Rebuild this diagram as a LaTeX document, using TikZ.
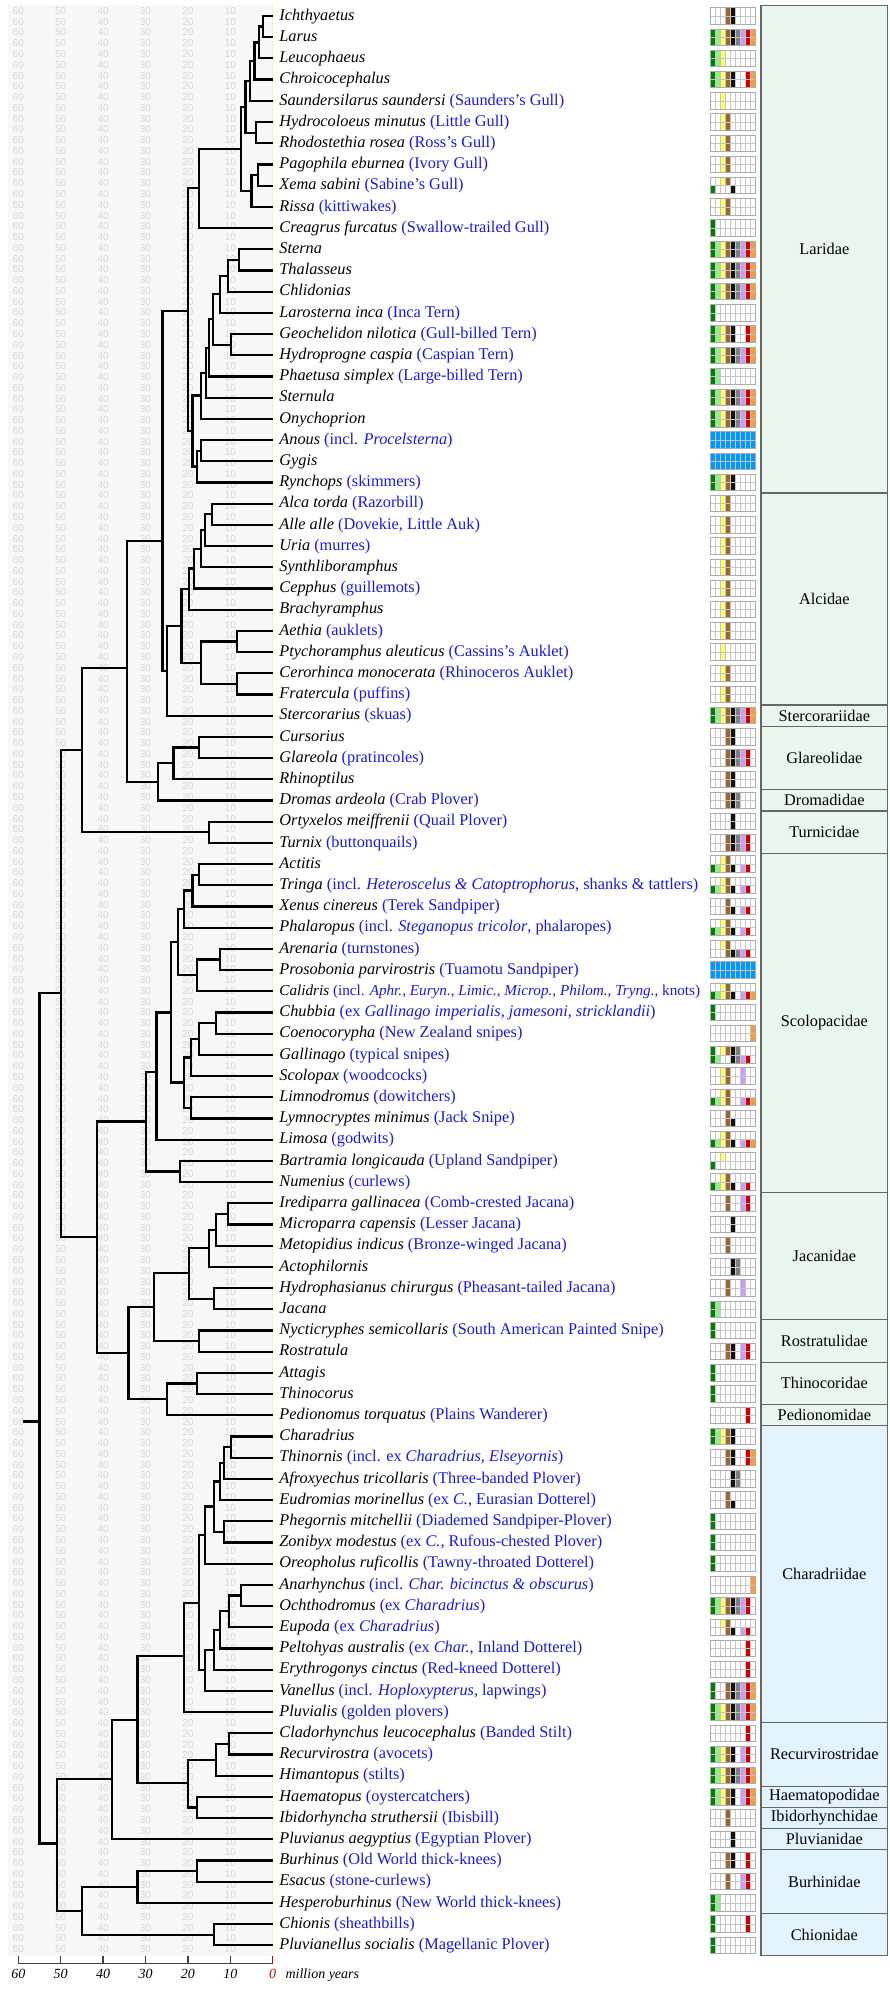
\documentclass[tikz,border=0pt]{standalone}
\usepackage{fontspec}
\setmainfont{Liberation Serif}
\newfontfamily\agefont{Liberation Sans}
\usetikzlibrary{positioning}

\definecolor{col1}{RGB}{0,128,0}
\definecolor{col2}{RGB}{144,238,144}
\definecolor{col3}{RGB}{255,255,102}
\definecolor{col4}{RGB}{153,102,51}
\definecolor{col5}{RGB}{17,17,17}
\definecolor{col6}{RGB}{128,128,128}
\definecolor{col7}{RGB}{204,153,255}
\definecolor{col8}{RGB}{204,0,0}
\definecolor{col9}{RGB}{255,153,51}
\definecolor{cellblue}{RGB}{0,153,255}
\definecolor{nameblue}{RGB}{24,24,230}
\definecolor{larigreen}{RGB}{232,246,237}
\definecolor{charablue}{RGB}{227,243,251}
\definecolor{plotgray}{RGB}{247,247,247}
\definecolor{agegray}{RGB}{214,214,214}
\definecolor{zeroline}{RGB}{255,236,196}

\newcommand\cm[1]{\textcolor{nameblue}{(#1)}}

\tikzset{
  branch/.style={line width=2.2pt},
  leaf/.style={inner sep=0pt, text height=12.6pt, text depth=4pt,
    font=\fontsize{16.3}{19}\selectfont},
  agenum/.style={inner sep=0pt, text=agegray, font=\agefont\fontsize{10}{12}\selectfont},
  ticklabel/.style={inner sep=0pt, text height=10pt, text depth=3pt,
    font=\fontsize{14}{16}\selectfont\itshape},
  cellline/.style={draw=gray!45, line width=0.45pt},
  cellbox/.style={draw=gray!65, line width=0.8pt},
  fambox/.style={draw=black!60, line width=1.3pt},
  famlabel/.style={inner sep=0pt, font=\fontsize{16.3}{19}\selectfont}
}

\begin{document}
\begin{tikzpicture}[x=1pt, y=-21.2pt]
  \useasboundingbox (0,0.2453) rectangle (890,94.1604);

  \fill[plotgray] (8,0.47) rectangle (272.7,92.5);
  \draw[zeroline, line width=1.2pt] (272.7,0.47) -- (272.7,92.5);

  \begin{scope}[x=-4.24pt, xshift=272.7pt]
    \foreach \k in {0,...,180}
      \foreach \a in {10,20,...,60}
        \node[agenum] (age-\k-\a) at (\a,{0.764+0.50792*\k}) {\a};

    \foreach \i in {1,...,92}
      \coordinate (l\i) at (0,\i);

    \foreach \nm/\ag/\rw/\ca/\cb in {
      n1/2.2/1.5/l1/l2, n2/3.2/2.25/n1/l3, n3/4.3/3.125/n2/l4, n4/5.4/4.06/n3/l5,
      n5/3.9/6.5/l6/l7, n6/6.4/5.28/n4/n5, n7/3.4/8.5/l8/l9, n8/5.0/9.25/n7/l10,
      n9/7.5/7.27/n6/n8, n10/17.4/9.13/n9/l11,
      t1/8.0/12.5/l12/l13, t2/10.5/13.25/t1/l14, t3/12.4/14.13/t2/l15,
      t4/9.9/16.5/l16/l17, t5/14.0/15.31/t3/t4, t6/15.0/16.66/t5/l18,
      t7/15.8/17.83/t6/l19, t8/16.9/18.9/t7/l20, t9/16.9/21.5/l21/l22,
      t10/17.9/22.25/t9/l23, t11/18.9/20.58/t8/t10,
      lari/19.9/14.9/n10/t11,
      a1/14.3/24.5/l24/l25, a2/15.9/25.25/a1/l26, a3/16.9/26.13/a2/l27,
      a4/18.5/27.06/a3/l28, a5/19.8/28.03/a4/l29, a6/8.4/30.5/l30/l31,
      a7/8.4/32.5/l32/l33, a8/16.9/31.5/a6/a7, a9/21.5/29.77/a5/a8,
      a10/25.0/31.88/a9/l34,
      lari2/26.0/25.75/lari/a10,
      g1/17.4/35.5/l35/l36, g2/23.4/36.25/g1/l37, g3/27.0/37.13/g2/l38,
      lari3/34.4/31.74/lari2/g3,
      tu/15.0/39.5/l39/l40,
      lari4/45.0/35.62/lari3/tu,
      s1/17.4/41.5/l41/l42, s2/18.9/42.25/s1/l43, s3/20.9/43.13/s2/l44,
      s4/12.4/45.5/l45/l46, s5/17.9/46.25/s4/l47, s6/22.3/44.69/s3/s5,
      sn1/13.4/48.5/l48/l49, sn2/17.4/49.25/sn1/l50, sn3/19.3/50.13/sn2/l51,
      sn4/19.3/52.5/l52/l53, sn5/20.9/51.31/sn3/sn4,
      s7/23.9/48.0/s6/sn5, s8/27.4/50.8/s7/l54, s9/21.9/55.5/l55/l56,
      s10/29.9/53.15/s8/s9,
      j1/10.5/57.5/l57/l58, j2/13.4/58.25/j1/l59, j3/15.0/59.13/j2/l60,
      j4/13.9/61.5/l61/l62, j5/19.8/60.31/j3/j4, r1/17.4/63.5/l63/l64,
      j6/28.0/61.9/j5/r1, h1/17.9/65.5/l65/l66, h2/25.0/66.25/h1/l67,
      j7/34.0/64.07/j6/h2,
      scolo/41.5/58.6/s10/j7,
      lariscolo/49.9/47.1/lari4/scolo,
      c1/9.9/68.5/l68/l69, c2/11.4/69.25/c1/l70, c3/12.4/70.13/c2/l71,
      c4/11.5/72.5/l72/l73, c5/13.9/71.31/c3/c4, c6/15.9/72.66/c5/l74,
      v1/7.4/75.5/l75/l76, v2/10.4/76.25/v1/l77, v3/12.4/77.13/v2/l78,
      v4/13.9/78.06/v3/l79, v5/15.9/79.03/v4/l80,
      c7/17.4/75.85/c6/v5, c8/20.9/78.35/c7/l81,
      rc1/10.4/82.5/l82/l83, rc2/13.4/83.25/rc1/l84, hi/17.9/85.5/l85/l86,
      rc3/19.9/84.35/rc2/hi,
      c9/31.9/81.38/c8/rc3, c10/37.9/84.15/c9/l87,
      b1/17.9/88.5/l88/l89, b2/31.9/89.25/b1/l90, ch/13.9/91.5/l91/l92,
      b3/45.0/90.38/b2/ch,
      chara/50.9/87.2/c10/b3,
      root/55.0/67.3/lariscolo/chara}
    {
      \coordinate (\nm) at (\ag,\rw);
      \draw[branch] (\ca) -| (\nm) |- (\cb);
    }
    \coordinate (stem) at (58.8,67.3);
    \draw[branch] (stem) -- (root);

    % time axis
    \draw[black!75, line width=1.3pt] (60,92.85) -- (0,92.85);
    \foreach \a in {10,20,...,60} {
      \draw[black!75, line width=1.3pt] (\a,92.85) -- ++(0,-0.33);
      \node[ticklabel] (tick\a) at (\a,93.42) {\a};
    }
    \draw[red!80!black, line width=1.3pt] (0,92.85) -- ++(0,-0.33);
    \node[ticklabel, text=red!80!black] (tick0) at (0,93.42) {0};
  \end{scope}
  \node[ticklabel, right=9pt of tick0] (myr) {million years};

  \foreach \i/\txt in {
    1/{\textit{Ichthyaetus}},
    2/{\textit{Larus}},
    3/{\textit{Leucophaeus}},
    4/{\textit{Chroicocephalus}},
    5/{\textit{Saundersilarus saundersi} \cm{Saunders’s Gull}},
    6/{\textit{Hydrocoloeus minutus} \cm{Little Gull}},
    7/{\textit{Rhodostethia rosea} \cm{Ross’s Gull}},
    8/{\textit{Pagophila eburnea} \cm{Ivory Gull}},
    9/{\textit{Xema sabini} \cm{Sabine’s Gull}},
    10/{\textit{Rissa} \cm{kittiwakes}},
    11/{\textit{Creagrus furcatus} \cm{Swallow-trailed Gull}},
    12/{\textit{Sterna}},
    13/{\textit{Thalasseus}},
    14/{\textit{Chlidonias}},
    15/{\textit{Larosterna inca} \cm{Inca Tern}},
    16/{\textit{Geochelidon nilotica} \cm{Gull-billed Tern}},
    17/{\textit{Hydroprogne caspia} \cm{Caspian Tern}},
    18/{\textit{Phaetusa simplex} \cm{Large-billed Tern}},
    19/{\textit{Sternula}},
    20/{\textit{Onychoprion}},
    21/{\textit{Anous} \cm{incl. \textit{Procelsterna}}},
    22/{\textit{Gygis}},
    23/{\textit{Rynchops} \cm{skimmers}},
    24/{\textit{Alca torda} \cm{Razorbill}},
    25/{\textit{Alle alle} \cm{Dovekie, Little Auk}},
    26/{\textit{Uria} \cm{murres}},
    27/{\textit{Synthliboramphus}},
    28/{\textit{Cepphus} \cm{guillemots}},
    29/{\textit{Brachyramphus}},
    30/{\textit{Aethia} \cm{auklets}},
    31/{\textit{Ptychoramphus aleuticus} \cm{Cassins’s Auklet}},
    32/{\textit{Cerorhinca monocerata} \cm{Rhinoceros Auklet}},
    33/{\textit{Fratercula} \cm{puffins}},
    34/{\textit{Stercorarius} \cm{skuas}},
    35/{\textit{Cursorius}},
    36/{\textit{Glareola} \cm{pratincoles}},
    37/{\textit{Rhinoptilus}},
    38/{\textit{Dromas ardeola} \cm{Crab Plover}},
    39/{\textit{Ortyxelos meiffrenii} \cm{Quail Plover}},
    40/{\textit{Turnix} \cm{buttonquails}},
    41/{\textit{Actitis}},
    42/{\textit{Tringa} \cm{incl. \textit{Heteroscelus \& Catoptrophorus}, shanks \& tattlers}},
    43/{\textit{Xenus cinereus} \cm{Terek Sandpiper}},
    44/{\textit{Phalaropus} \cm{incl. \textit{Steganopus tricolor}, phalaropes}},
    45/{\textit{Arenaria} \cm{turnstones}},
    46/{\textit{Prosobonia parvirostris} \cm{Tuamotu Sandpiper}},
    47/{\fontsize{15.2}{19}\selectfont\textit{Calidris} \cm{incl. \textit{Aphr.}, \textit{Euryn.}, \textit{Limic.}, \textit{Microp.}, \textit{Philom.}, \textit{Tryng.}, knots}},
    48/{\textit{Chubbia} \cm{ex \textit{Gallinago imperialis, jamesoni, stricklandii}}},
    49/{\textit{Coenocorypha} \cm{New Zealand snipes}},
    50/{\textit{Gallinago} \cm{typical snipes}},
    51/{\textit{Scolopax} \cm{woodcocks}},
    52/{\textit{Limnodromus} \cm{dowitchers}},
    53/{\textit{Lymnocryptes minimus} \cm{Jack Snipe}},
    54/{\textit{Limosa} \cm{godwits}},
    55/{\textit{Bartramia longicauda} \cm{Upland Sandpiper}},
    56/{\textit{Numenius} \cm{curlews}},
    57/{\textit{Irediparra gallinacea} \cm{Comb-crested Jacana}},
    58/{\textit{Microparra capensis} \cm{Lesser Jacana}},
    59/{\textit{Metopidius indicus} \cm{Bronze-winged Jacana}},
    60/{\textit{Actophilornis}},
    61/{\textit{Hydrophasianus chirurgus} \cm{Pheasant-tailed Jacana}},
    62/{\textit{Jacana}},
    63/{\textit{Nycticryphes semicollaris} \cm{South American Painted Snipe}},
    64/{\textit{Rostratula}},
    65/{\textit{Attagis}},
    66/{\textit{Thinocorus}},
    67/{\textit{Pedionomus torquatus} \cm{Plains Wanderer}},
    68/{\textit{Charadrius}},
    69/{\textit{Thinornis} \cm{incl. ex \textit{Charadrius}, \textit{Elseyornis}}},
    70/{\textit{Afroxyechus tricollaris} \cm{Three-banded Plover}},
    71/{\textit{Eudromias morinellus} \cm{ex \textit{C.}, Eurasian Dotterel}},
    72/{\textit{Phegornis mitchellii} \cm{Diademed Sandpiper-Plover}},
    73/{\textit{Zonibyx modestus} \cm{ex \textit{C.}, Rufous-chested Plover}},
    74/{\textit{Oreopholus ruficollis} \cm{Tawny-throated Dotterel}},
    75/{\textit{Anarhynchus} \cm{incl. \textit{Char. bicinctus \& obscurus}}},
    76/{\textit{Ochthodromus} \cm{ex \textit{Charadrius}}},
    77/{\textit{Eupoda} \cm{ex \textit{Charadrius}}},
    78/{\textit{Peltohyas australis} \cm{ex \textit{Char.}, Inland Dotterel}},
    79/{\textit{Erythrogonys cinctus} \cm{Red-kneed Dotterel}},
    80/{\textit{Vanellus} \cm{incl. \textit{Hoploxypterus,} lapwings}},
    81/{\textit{Pluvialis} \cm{golden plovers}},
    82/{\textit{Cladorhynchus leucocephalus} \cm{Banded Stilt}},
    83/{\textit{Recurvirostra} \cm{avocets}},
    84/{\textit{Himantopus} \cm{stilts}},
    85/{\textit{Haematopus} \cm{oystercatchers}},
    86/{\textit{Ibidorhyncha struthersii} \cm{Ibisbill}},
    87/{\textit{Pluvianus aegyptius} \cm{Egyptian Plover}},
    88/{\textit{Burhinus} \cm{Old World thick-knees}},
    89/{\textit{Esacus} \cm{stone-curlews}},
    90/{\textit{Hesperoburhinus} \cm{New World thick-knees}},
    91/{\textit{Chionis} \cm{sheathbills}},
    92/{\textit{Pluvianellus socialis} \cm{Magellanic Plover}}}
    \node[leaf, right=6.5pt of l\i] (lab\i) {\txt};

  % plumage cells: row / upper half / lower half
  \foreach \r/\tp/\bt in {
    1/{4,5}/{4,5}, 2/{1,2,3,4,5,6,7,8,9}/{1,2,3,4,5,6,7,8,9}, 3/{1,2,3}/{1,2,3},
    4/{1,2,3,4,5,8,9}/{1,2,3,4,5,8,9}, 5/{3}/{3}, 6/{3,4}/{3,4}, 7/{3,4}/{3,4},
    8/{3,4}/{3,4}, 9/{3,4}/{1,5}, 10/{3,4}/{3,4}, 11/{1}/{1},
    12/{1,2,3,4,5,6,7,8,9}/{1,2,3,4,5,6,7,8,9}, 13/{1,2,3,4,5,6,7,8,9}/{1,2,3,4,5,6,7,8,9},
    14/{1,2,3,4,5,6,7,8,9}/{1,2,3,4,5,6,7,8,9}, 15/{1}/{1},
    16/{1,2,3,4,5,8,9}/{1,2,3,4,5,8,9}, 17/{1,2,3,4,5,6,7,8,9}/{1,2,3,4,5,6,7,8,9},
    18/{1,2}/{1,2}, 19/{1,2,3,4,5,6,7,8,9}/{1,2,3,4,5,6,7,8,9},
    20/{1,2,3,4,5,6,7,8,9}/{1,2,3,4,5,6,7,8,9}, 23/{1,2,3,4,5}/{1,2,3,4,5},
    24/{3,4}/{3,4}, 25/{3,4}/{3,4}, 26/{3,4}/{3,4}, 27/{3,4}/{3,4}, 28/{3,4}/{3,4},
    29/{3,4}/{3,4}, 30/{3,4}/{3,4}, 31/{3}/{3}, 32/{3,4}/{3,4}, 33/{3,4}/{3,4},
    34/{1,2,3,4,5,6,7,8,9}/{1,2,3,4,5,6,7,8,9}, 35/{4,5}/{4,5},
    36/{4,5,6,7,8}/{4,5,6,7,8}, 37/{4,5}/{4,5}, 38/{4,5,6}/{4,5,6}, 39/{5}/{5},
    40/{4,5,6,7,8}/{4,5,6,7,8}, 41/{3,4}/{1,2,3,4,5,7,8}, 42/{3,4}/{1,2,3,4,5,7,8},
    43/{4}/{4,5,7,8}, 44/{3,4}/{1,2,3,4,5,7,8}, 45/{3,4}/{4,5,6,7,8},
    47/{3,4}/{1,2,3,4,5,7,8,9}, 48/{1}/{1}, 49/{9}/{9}, 50/{1,3,4,5,6}/{1,2,5,6,7,8},
    51/{3,4,7}/{3,4,7}, 52/{3,4}/{1,2,3,4,7,8,9}, 53/{4}/{4,5},
    54/{3,4}/{1,2,3,4,5,7,8,9}, 55/{3}/{1}, 56/{3,4}/{1,2,3,4,5,7,8},
    57/{4,7,8}/{4,7,8}, 58/{5}/{5}, 59/{4}/{4}, 60/{5,6}/{5,6}, 61/{4,7}/{4,7},
    62/{1,2}/{1,2}, 63/{1}/{1}, 64/{4,5,7,8}/{4,5,7,8}, 65/{1}/{1}, 66/{1}/{1},
    67/{8}/{8}, 68/{1,2,3,4,5}/{1,2,3,4,5}, 69/{4,5,8,9}/{4,5,8,9}, 70/{5,6}/{5,6},
    71/{4}/{4,5}, 72/{1}/{1}, 73/{1}/{1}, 74/{1}/{1}, 75/{9}/{9},
    76/{1,2,3,4,5,6,7,8}/{1,2,3,4,5,6,7,8}, 77/{3,4}/{4,5,7,8}, 78/{8}/{8}, 79/{8}/{8},
    80/{1,4,5,6,7,8,9}/{1,4,5,6,7,8,9}, 81/{1,2,3,4,5,6,7,8,9}/{1,2,3,4,5,6,7,8,9},
    82/{8}/{8}, 83/{1,2,3,4,5,7,8}/{1,2,3,4,5,7,8},
    84/{1,2,3,4,5,6,7,8,9}/{1,2,3,4,5,6,7,8,9}, 85/{1,2,3,4,5,7,8,9}/{1,2,3,4,5,7,8,9},
    86/{4}/{4}, 87/{5}/{5}, 88/{4,5,8}/{4,5,8}, 89/{4,7,8}/{4,7,8}, 90/{1,2}/{1,2},
    91/{1,8}/{1,8}, 92/{1}/{1}}
  {
    \foreach \k in \tp
      \fill[fill=col\k] ({710+5.07*(\k-1)},\r-0.39) rectangle ++(5.07,0.39);
    \foreach \k in \bt
      \fill[fill=col\k] ({710+5.07*(\k-1)},\r) rectangle ++(5.07,0.39);
  }
  \foreach \r in {21,22,46}
    \fill[cellblue] (710,\r-0.39) rectangle (755.63,\r+0.39);

  \foreach \r in {1,...,92} {
    \draw[cellline] (710,\r) -- (755.63,\r);
    \foreach \k in {1,...,8}
      \draw[cellline] ({710+5.07*\k},\r-0.39) -- ++(0,0.78);
    \draw[cellbox] (710,\r-0.39) rectangle (755.63,\r+0.39);
  }

  % families
  \foreach \nm/\a/\b/\fc in {
    Laridae/1/23/larigreen, Alcidae/24/33/larigreen, Stercorariidae/34/34/larigreen,
    Glareolidae/35/37/larigreen, Dromadidae/38/38/larigreen, Turnicidae/39/40/larigreen,
    Scolopacidae/41/56/larigreen, Jacanidae/57/62/larigreen, Rostratulidae/63/64/larigreen,
    Thinocoridae/65/66/larigreen, Pedionomidae/67/67/larigreen,
    Charadriidae/68/81/charablue, Recurvirostridae/82/84/charablue,
    Haematopodidae/85/85/charablue, Ibidorhynchidae/86/86/charablue,
    Pluvianidae/87/87/charablue, Burhinidae/88/90/charablue, Chionidae/91/92/charablue}
  {
    \draw[fambox, fill=\fc] (761,\a-0.5) rectangle (887.7,\b+0.5);
    \node[famlabel] (fam\a) at (824.35,{(\a+\b)/2}) {\nm};
  }
\end{tikzpicture}
\end{document}
